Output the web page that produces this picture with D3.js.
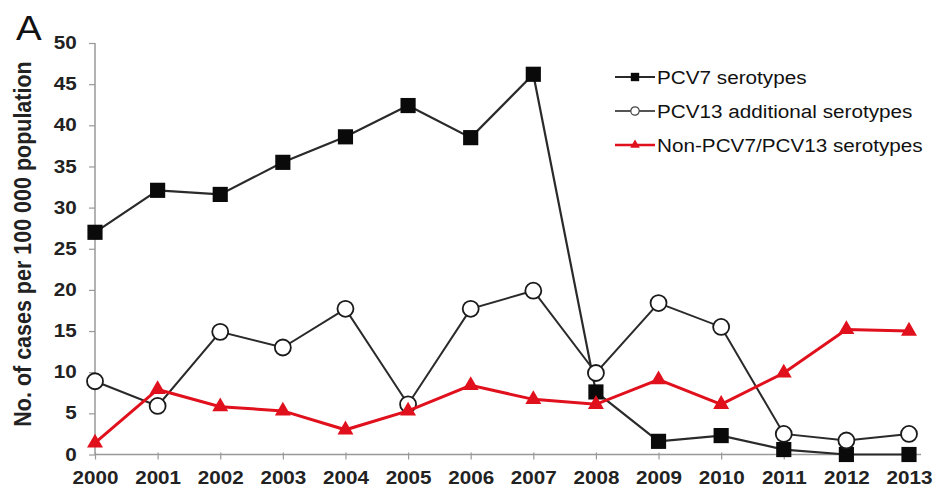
<!DOCTYPE html>
<html>
<head>
<meta charset="utf-8">
<script src="https://cdn.jsdelivr.net/npm/d3@7"></script>
<style>
  body { margin: 0; background: #fff; }
  svg { display: block; font-family: "Liberation Sans", Arial, sans-serif; }
</style>
</head>
<body>
<div id="chart"></div>
<script>
var years = [2000, 2001, 2002, 2003, 2004, 2005, 2006, 2007, 2008, 2009, 2010, 2011, 2012, 2013];
var pcv7 = [27.0, 32.1, 31.6, 35.5, 38.6, 42.4, 38.5, 46.2, 7.6, 1.6, 2.3, 0.6, 0, 0];
var pcv13 = [8.9, 5.9, 14.9, 13.0, 17.7, 6.1, 17.7, 19.9, 9.9, 18.4, 15.5, 2.5, 1.7, 2.5];
var nonPcv = [1.4, 7.9, 5.8, 5.3, 3.0, 5.3, 8.4, 6.7, 6.1, 9.1, 6.1, 9.9, 15.2, 15.0];
var yTicks = [0, 5, 10, 15, 20, 25, 30, 35, 40, 45, 50];
var legendLabels = ["PCV7 serotypes", "PCV13 additional serotypes", "Non-PCV7/PCV13 serotypes"];

var w = 934, h = 487;
var stretch = 1.18;

var svg = d3.select("#chart")
    .append("svg")
    .attr("width", w)
    .attr("height", h);

var x = d3.scaleLinear().domain([2000, 2013]).range([95, 909]);
var y = d3.scaleLinear().domain([0, 50]).range([454.5, 43]);

// panel letter
svg.append("text")
    .attr("transform", "translate(16,40) scale(1.1,1)")
    .attr("font-size", "35px")
    .attr("fill", "#111")
    .text("A");

// y axis title
svg.append("text")
    .attr("transform", "translate(31,244) rotate(-90) scale(1,1.12)")
    .attr("text-anchor", "middle")
    .attr("font-size", "21.5px")
    .attr("font-weight", "bold")
    .attr("fill", "#222")
    .text("No. of cases per 100 000 population");

// y axis
var yAxis = svg.append("g")
    .attr("transform", "translate(95,0)")
    .call(d3.axisLeft(y).tickValues(yTicks).tickSize(6).tickFormat(d3.format("d")));
yAxis.select(".domain").attr("stroke", "#999").attr("stroke-width", 1.5).attr("d", "M0," + y(50) + "V" + y(0));
yAxis.selectAll(".tick line").attr("stroke", "#999").attr("stroke-width", 1.2);
yAxis.selectAll(".tick text")
    .attr("x", -15.5)
    .attr("transform", "scale(" + stretch + ",1)")
    .attr("font-size", "17.5px")
    .attr("font-weight", "bold")
    .attr("fill", "#222")
    .attr("font-family", "Liberation Sans, Arial, sans-serif");

// x axis
var xAxis = svg.append("g")
    .attr("transform", "translate(0," + y(0) + ")")
    .call(d3.axisBottom(x).tickValues(years).tickSize(5).tickFormat(d3.format("d")));
xAxis.select(".domain").attr("stroke", "#999").attr("stroke-width", 1.5).attr("d", "M95,0H921");
xAxis.selectAll(".tick line").attr("stroke", "#999").attr("stroke-width", 1.2).attr("y1", -2);
xAxis.selectAll(".tick text")
    .attr("y", 30)
    .attr("dy", 0)
    .attr("transform", "scale(" + stretch + ",1)")
    .attr("font-size", "17.5px")
    .attr("font-weight", "bold")
    .attr("fill", "#222")
    .attr("font-family", "Liberation Sans, Arial, sans-serif");

var line = d3.line()
    .x(function(d, i) { return x(years[i]); })
    .y(function(d) { return y(d); });

// PCV7 serotypes
svg.append("path")
    .datum(pcv7)
    .attr("d", line)
    .attr("fill", "none")
    .attr("stroke", "#2a2a2a")
    .attr("stroke-width", 2.2);
svg.selectAll(".sq")
    .data(pcv7)
    .enter()
    .append("path")
    .attr("class", "sq")
    .attr("d", d3.symbol(d3.symbolSquare, 230))
    .attr("transform", function(d, i) { return "translate(" + x(years[i]) + "," + y(d) + ")"; })
    .attr("fill", "#0a0a0a");

// PCV13 additional serotypes
svg.append("path")
    .datum(pcv13)
    .attr("d", line)
    .attr("fill", "none")
    .attr("stroke", "#2a2a2a")
    .attr("stroke-width", 2);
svg.selectAll(".circ")
    .data(pcv13)
    .enter()
    .append("circle")
    .attr("class", "circ")
    .attr("cx", function(d, i) { return x(years[i]); })
    .attr("cy", function(d) { return y(d); })
    .attr("r", 8)
    .attr("fill", "#fff")
    .attr("stroke", "#1a1a1a")
    .attr("stroke-width", 1.8);

// Non-PCV7/PCV13 serotypes
svg.append("path")
    .datum(nonPcv)
    .attr("d", line)
    .attr("fill", "none")
    .attr("stroke", "#e0101c")
    .attr("stroke-width", 3);
svg.selectAll(".tri")
    .data(nonPcv)
    .enter()
    .append("path")
    .attr("class", "tri")
    .attr("d", d3.symbol(d3.symbolTriangle, 110))
    .attr("transform", function(d, i) { return "translate(" + x(years[i]) + "," + y(d) + ")"; })
    .attr("fill", "#e0101c");

// legend
var legend = svg.append("g").attr("transform", "translate(615,0)");
var rows = [77, 111, 145];
var colors = ["#2a2a2a", "#555", "#e0101c"];
legendLabels.forEach(function(lbl, i) {
    var g = legend.append("g").attr("transform", "translate(0," + rows[i] + ")");
    g.append("line")
        .attr("x1", 0).attr("x2", 40)
        .attr("stroke", colors[i])
        .attr("stroke-width", i === 2 ? 2.5 : 1.8);
    if (i === 0) {
        g.append("path").attr("d", d3.symbol(d3.symbolSquare, 70)).attr("transform", "translate(20,0)").attr("fill", "#0a0a0a");
    } else if (i === 1) {
        g.append("circle").attr("cx", 20).attr("r", 4.2).attr("fill", "#fff").attr("stroke", "#444").attr("stroke-width", 1.2);
    } else {
        g.append("path").attr("d", d3.symbol(d3.symbolTriangle, 40)).attr("transform", "translate(20,0)").attr("fill", "#e0101c");
    }
    g.append("text")
        .attr("transform", "translate(42,0) scale(1.09,1)")
        .attr("dy", "0.35em")
        .attr("font-size", "19px")
        .attr("fill", "#111")
        .text(lbl);
});
</script>
</body>
</html>
